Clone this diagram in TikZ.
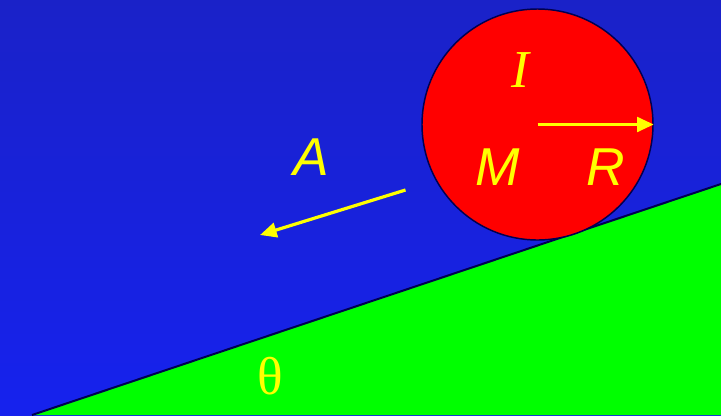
\documentclass[tikz,border=0pt]{standalone}
\usepackage{fontspec}
\setmainfont{Liberation Serif}
\newfontfamily\arialfont{Liberation Sans}
\usetikzlibrary{arrows.meta}
\definecolor{bgtop}{RGB}{26,34,200}
\definecolor{bgbot}{RGB}{22,34,238}
\definecolor{ramp}{RGB}{0,255,0}
\definecolor{ballred}{RGB}{255,0,0}
\definecolor{navy}{RGB}{0,0,80}
\definecolor{yel}{RGB}{255,255,0}
\tikzset{
  lbl/.style={text=yel, inner sep=0pt, font=\fontsize{40}{44}\selectfont},
  sanslbl/.style={lbl, font=\arialfont\itshape\fontsize{40}{44}\selectfont},
  yarrow/.style={draw=yel, line width=2.4pt, -{Triangle[length=12.5pt,width=11pt]}},
}
\begin{document}
\begin{tikzpicture}[x=0.75pt,y=-0.75pt]
\useasboundingbox (0,0) rectangle (721,415);
\shade[top color=bgtop, bottom color=bgbot] (0,0) rectangle (721,415);
% ramp
\coordinate (rb) at (32,415);
\coordinate (rt) at (721,184);
\coordinate (rr) at (721,415);
\fill[ramp] (rb) -- (rt) -- (rr) -- cycle;
\draw[navy, line width=1.5pt] (rb) -- (rt);
% ball
\node[circle, draw=navy, line width=1.1pt, fill=ballred, minimum size=173.25pt, inner sep=0pt] (ball) at (537.5,124.5) {};
\node[lbl, font=\itshape\fontsize{40}{44}\selectfont] (I) at (520,70.5) {I};
\node[sanslbl] (M) at (498,167.5) {M};
\node[sanslbl] (R) at (606,167.5) {R};
\draw[yarrow] (ball.center) -- (ball.east);
% acceleration
\node[sanslbl] (A) at (311,157) {A};
\coordinate (a1) at (405.5,190);
\coordinate (a2) at (260,235);
\draw[yarrow] (a1) -- (a2);
% angle
\node[lbl] (th) at (270,376) {θ};
\end{tikzpicture}
\end{document}
